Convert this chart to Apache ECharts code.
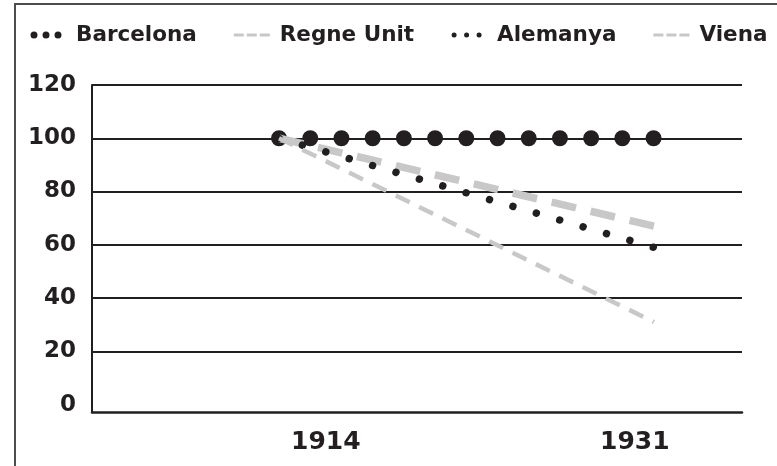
<!DOCTYPE html>
<html>
<head>
<meta charset="utf-8">
<script src="https://cdn.jsdelivr.net/npm/echarts@6/dist/echarts.min.js"></script>
<style>
  html, body { margin: 0; padding: 0; background: #fff; }
  #main { width: 777px; height: 466px; }
</style>
</head>
<body>
<div id="main"></div>
<script>
// dades: índex 1914 = 100
var anys = [1914, 1931];
var etiquetesX = [1914, 1931];
var etiquetesY = [0, 20, 40, 60, 80, 100, 120];
var liniesY = [20, 40, 60, 80, 100, 120];
var barcelona = [100, 100];
var regneUnit = [100, 67];
var alemanya = [100, 59];
var viena = [100, 31];

(function () {
  var myChart = echarts.init(document.getElementById('main'))
  var negre = '#231f20'
  var gris = '#c8c8c8'
  var font = 'DejaVu Sans'

  function parells(valors) {
    return anys.map(function (a, i) { return [a, valors[i]] })
  }

  // icones de la llegenda (caixa 36x8)
  var iconaPunts = 'path://M0,0M36,8M0.5,4a3.5,3.5 0 1,0 7,0a3.5,3.5 0 1,0 -7,0zM12.5,4a3.5,3.5 0 1,0 7,0a3.5,3.5 0 1,0 -7,0zM24.5,4a3.5,3.5 0 1,0 7,0a3.5,3.5 0 1,0 -7,0z'
  var iconaPuntets = 'path://M0,0M36,8M0.5,4a2.5,2.5 0 1,0 5,0a2.5,2.5 0 1,0 -5,0zM13,4a2.5,2.5 0 1,0 5,0a2.5,2.5 0 1,0 -5,0zM25.5,4a2.5,2.5 0 1,0 5,0a2.5,2.5 0 1,0 -5,0z'
  var iconaRatlles = 'path://M0,0M36,8M0,2.5h10v3h-10zM13,2.5h10v3h-10zM26,2.5h10v3h-10z'

  var option = {
    animation: false,
    // marc del gràfic
    graphic: [{
      type: 'polyline',
      shape: { points: [[15, 466], [15, 4], [777, 4]] },
      style: { stroke: '#4d4d4d', lineWidth: 2, fill: null }
    }],
    legend: {
      left: 25,
      top: 19,
      itemWidth: 36,
      itemHeight: 8,
      itemGap: 37,
      itemStyle: { borderWidth: 0 },
      textStyle: {
        color: negre,
        fontFamily: font,
        fontWeight: 'bold',
        fontSize: 21.5,
        padding: [0, 0, 0, 5]
      },
      data: [
        { name: 'Barcelona', icon: iconaPunts },
        { name: 'Regne Unit', icon: iconaRatlles },
        { name: 'Alemanya', icon: iconaPuntets },
        { name: 'Viena', icon: iconaRatlles }
      ]
    },
    grid: {
      left: 92,
      right: 35,
      top: 85,
      bottom: 54
    },
    xAxis: [{
      // eix visible amb les etiquetes
      type: 'value',
      min: 1901.13,
      max: 1936.9,
      axisLine: { show: true, onZero: false, lineStyle: { color: negre, width: 2.5 } },
      axisTick: { show: false },
      splitLine: { show: false },
      axisLabel: {
        customValues: etiquetesX,
        formatter: function (v) { return String(v) },
        margin: 18,
        color: negre,
        fontFamily: font,
        fontWeight: 'bold',
        fontSize: 25
      }
    }, {
      // eix de les dades
      type: 'value',
      show: false,
      min: 1905.52,
      max: 1934.99
    }],
    yAxis: {
      type: 'value',
      min: -2.8,
      max: 120,
      axisLine: { show: true, lineStyle: { color: negre, width: 2 } },
      axisTick: { show: false, customValues: liniesY },
      splitLine: { show: true, lineStyle: { color: negre, width: 2 } },
      axisLabel: {
        customValues: etiquetesY,
        margin: 16,
        color: negre,
        fontFamily: font,
        fontWeight: 'bold',
        fontSize: 23
      }
    },
    series: [{
      name: 'Barcelona',
      type: 'line',
      xAxisIndex: 1,
      data: parells(barcelona),
      showSymbol: false,
      color: negre,
      lineStyle: { color: negre, width: 16, type: [0.01, 31.2], cap: 'round' }
    }, {
      name: 'Regne Unit',
      type: 'line',
      xAxisIndex: 1,
      data: parells(regneUnit),
      showSymbol: false,
      color: gris,
      lineStyle: { color: gris, width: 7.5, type: [25, 15] }
    }, {
      name: 'Alemanya',
      type: 'line',
      xAxisIndex: 1,
      data: parells(alemanya),
      showSymbol: false,
      color: negre,
      lineStyle: { color: negre, width: 7.5, type: [0.01, 24.35], cap: 'round' }
    }, {
      name: 'Viena',
      type: 'line',
      xAxisIndex: 1,
      data: parells(viena),
      showSymbol: false,
      color: gris,
      lineStyle: { color: gris, width: 4.5, type: [15.5, 10.5] }
    }]
  }
  myChart.setOption(option)
  window.addEventListener('resize', function () {
    myChart.resize()
  })
})()
</script>
</body>
</html>
